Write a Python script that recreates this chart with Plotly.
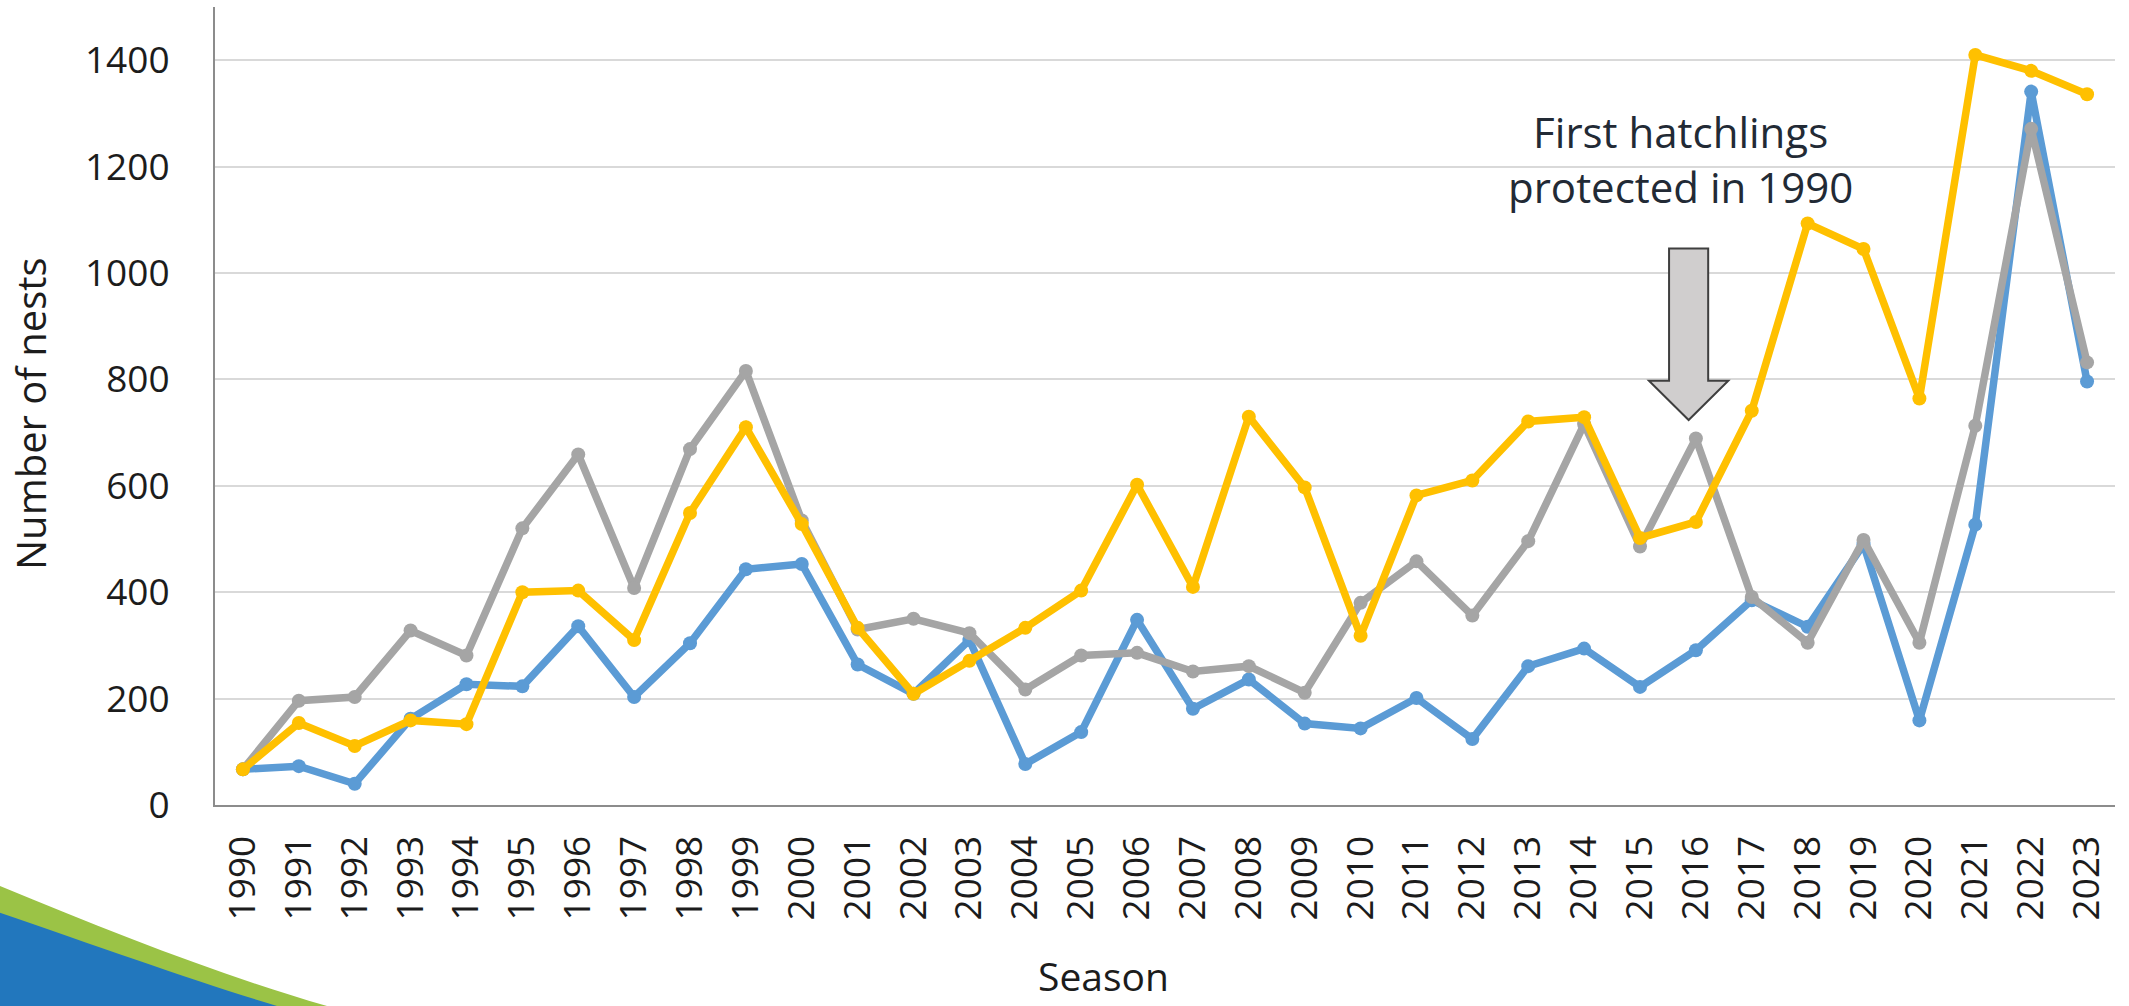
import plotly.graph_objects as go

seasons = list(range(1990, 2024))

blue_nests = [67, 73, 40, 162, 227, 223, 336, 203, 304, 443, 453, 264, 209, 310, 77, 137,
              348, 181, 236, 153, 144, 201, 124, 261, 294, 222, 291, 385, 335, 490, 159, 527,
              1341, 796]
gray_nests = [67, 196, 203, 328, 281, 520, 659, 408, 669, 816, 535, 330, 350, 323, 217, 281,
              286, 251, 261, 211, 380, 458, 356, 496, 716, 486, 689, 391, 305, 498, 305, 713,
              1271, 832]
yellow_nests = [67, 154, 111, 159, 152, 400, 403, 310, 549, 710, 528, 333, 209, 271, 333, 403,
                602, 410, 730, 597, 318, 582, 610, 721, 729, 502, 532, 741, 1093, 1045, 764, 1410,
                1380, 1336]

y_ticks = [0, 200, 400, 600, 800, 1000, 1200, 1400]

BLUE = "#5B9BD5"
GRAY = "#A5A5A5"
YELLOW = "#FFC000"
FONT = "Open Sans"
TXT = "#1c1c1c"

W, H = 2129, 1006
ML, MR, MT, MB = 215, 14, 7, 201
PW, PH = W - ML - MR, H - MT - MB


def px(x):
    return (x - ML) / PW


def py(y):
    return (H - MB - y) / PH


fig = go.Figure()
for name, vals, col in [("Series A", blue_nests, BLUE),
                        ("Series B", gray_nests, GRAY),
                        ("Series C", yellow_nests, YELLOW)]:
    fig.add_trace(go.Scatter(
        x=seasons, y=vals, mode="lines+markers", name=name,
        line=dict(color=col, width=7.5),
        marker=dict(color=col, size=14, symbol="circle"),
        showlegend=False, cliponaxis=False,
    ))

# decorative swoosh in bottom-left corner (pixel -> paper coords)
green_path = (f"M {px(-5)} {py(884)} C {px(110)} {py(932)}, {px(220)} {py(975)}, {px(327)} {py(1006)} "
              f"L {px(340)} {py(1012)} L {px(-5)} {py(1012)} Z")
blue_path = (f"M {px(-5)} {py(911)} C {px(100)} {py(947)}, {px(200)} {py(983)}, {px(277)} {py(1006)} "
             f"L {px(290)} {py(1012)} L {px(-5)} {py(1012)} Z")

shapes = [
    dict(type="path", xref="paper", yref="paper", path=green_path,
         fillcolor="#9BC346", line=dict(width=0), layer="below"),
    dict(type="path", xref="paper", yref="paper", path=blue_path,
         fillcolor="#2277BD", line=dict(width=0), layer="below"),
    # block arrow
    dict(type="path", xref="x", yref="y",
         path=("M 2015.52 1046 L 2016.22 1046 L 2016.22 797.6 L 2016.58 797.6 "
               "L 2015.87 723.7 L 2015.16 797.6 L 2015.52 797.6 Z"),
         fillcolor="#D0CECE", line=dict(color="#3F3F3F", width=2), layer="above"),
]

fig.update_layout(
    width=W, height=H,
    margin=dict(l=ML, r=MR, t=MT, b=MB, pad=0),
    paper_bgcolor="white", plot_bgcolor="white",
    font=dict(family=FONT, color=TXT),
    shapes=shapes,
    xaxis=dict(
        range=[1989.5, 2023.5], tickmode="array", tickvals=seasons,
        ticktext=[str(s) for s in seasons], tickangle=-90,
        tickfont=dict(size=37, color=TXT, family=FONT),
        showgrid=False, zeroline=False,
        showline=True, linecolor="#8C8C8C", linewidth=2,
        ticks="", ticklabelstandoff=14,
    ),
    yaxis=dict(
        range=[0, 1500], tickmode="array", tickvals=y_ticks,
        tickfont=dict(size=37, color=TXT, family=FONT),
        showgrid=True, gridcolor="#D9D9D9", gridwidth=2,
        zeroline=False, showline=True, linecolor="#8C8C8C", linewidth=2,
        ticks="", ticklabelstandoff=36,
    ),
    annotations=[
        dict(text="Number of nests", xref="paper", yref="paper", x=0, y=py(414),
             xshift=-185, xanchor="center", yanchor="middle", textangle=-90,
             showarrow=False, font=dict(size=40, color=TXT, family=FONT)),
        dict(text="Season", xref="paper", yref="paper", x=px(1103), y=0,
             yshift=-170, xanchor="center", yanchor="middle", borderpad=0,
             showarrow=False, font=dict(size=39, color=TXT, family=FONT)),
        dict(text="First hatchlings<br>protected in 1990", xref="x", yref="y",
             x=2015.72, y=1215, xanchor="center", yanchor="middle", align="center",
             showarrow=False, font=dict(size=42, color="#222A35", family=FONT)),
    ],
)

fig.write_html("out.html", config={"displayModeBar": False},
               post_script="document.body.style.margin='0';document.body.style.overflow='hidden';")
